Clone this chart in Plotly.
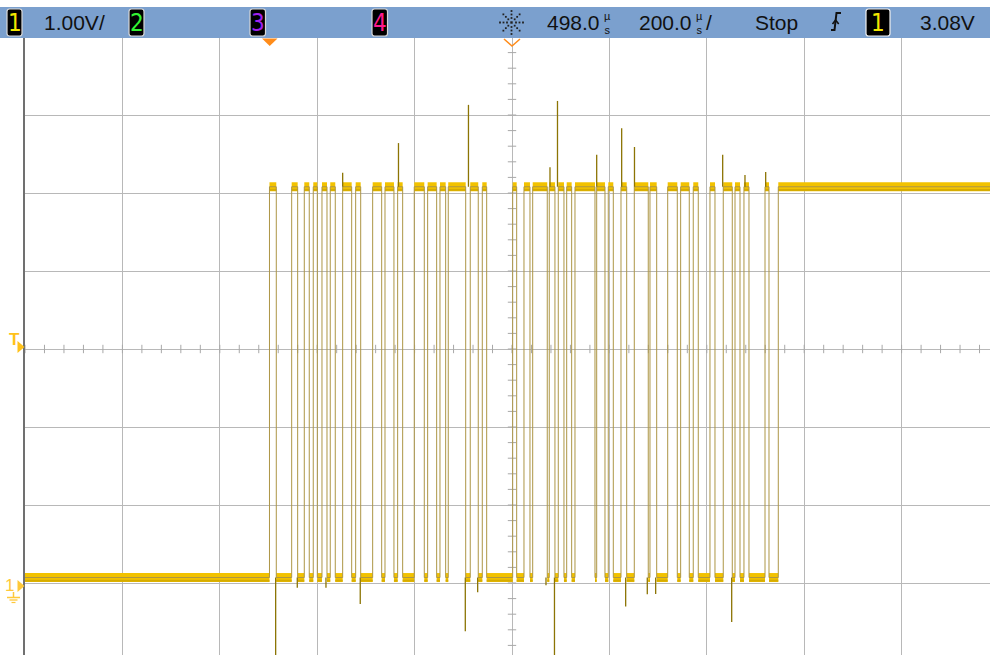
import math
import plotly.graph_objects as go

# ---------------- data (time in µs relative to trigger, voltage in V) ----------------
t_left = -502.0          # time at left screen edge (delay 498 µs - 5 div)
t_per_div = 200.0        # 200 µs/div
v_center = 3.0           # screen centre voltage (1.00 V/div, ground 3 div below)

rise_times = [0.0, 45.6, 71.5, 89.9, 107.8, 124.8, 150.3, 177.0, 211.9, 237.2, 263.2,
              297.3, 324.8, 350.1, 367.1, 412.3, 437.0, 499.4, 522.6, 540.5, 574.5,
              593.0, 610.3, 627.3, 671.9, 695.7, 721.8, 749.1, 781.3, 817.7, 844.3,
              870.2, 904.5, 931.8, 955.9, 974.3, 1017.5, 1044.8]
fall_times = [14.0, 57.9, 81.7, 98.2, 118.1, 135.1, 168.8, 187.3, 230.4, 255.6, 273.5,
              317.9, 343.3, 361.8, 402.9, 428.7, 446.0, 507.6, 534.9, 570.4, 586.2,
              604.7, 620.5, 668.4, 688.9, 706.0, 733.5, 777.8, 795.1, 837.4, 862.0,
              880.5, 914.8, 950.3, 966.2, 984.6, 1025.7]
v_high = 5.08
v_low = 0.07

# glitch / overshoot spikes (time, peak voltage)
spike_t = [150.3, 264.9, 408.6, 576.0, 591.4, 671.9, 723.2, 749.5, 930.6, 976.4, 1018.9,
           12.7, 57.1, 116.0, 186.4, 402.1, 427.5, 567.8, 585.2, 731.4, 775.8, 793.0, 949.1]
spike_v = [5.26, 5.64, 6.13, 5.33, 6.18, 5.49, 5.83, 5.59, 5.49, 5.23, 5.27,
           -1.0, -0.06, -0.06, -0.27, -0.62, -0.12, -0.03, -1.0, -0.30, -0.145, -0.14, -0.50]

# ---------------- screen geometry ----------------
W, H = 990, 655
L, T = 25, 38
PW, PH = W - L, H - T
div_px_x = 97.4
div_px_y = 78.0
t_right = t_left + PW / div_px_x * t_per_div
center_py = 349.0
v_top = v_center + (center_py - T) / div_px_y
v_bot = v_center - (H - center_py) / div_px_y


def PX(x):
    return (x - L) / PW


def PY(y):
    return (H - y) / PH


# ---------------- waveform construction ----------------
edges = sorted([(t, v_high) for t in rise_times] + [(t, v_low) for t in fall_times])
wx, wy = [t_left], [v_low]
cur = v_low
for t, v in edges:
    wx += [t, t]
    wy += [cur, v]
    cur = v
wx.append(t_right)
wy.append(cur)

starts = [t_left] + [t for t, _ in edges]
levels = [v_low] + [v for _, v in edges]
ends = [t for t, _ in edges] + [t_right]
px_, py_, dx_, dy_ = [], [], [], []
for s, e, v in zip(starts, ends, levels):
    px_ += [s, e, None]
    py_ += [v, v, None]
    dx_ += [s, e, None]
    dy_ += [v - 0.04, v - 0.04, None]

sx, sy = [], []
for t, v in zip(spike_t, spike_v):
    base = v_high if v > v_center else v_low
    sx += [t, t, None]
    sy += [base, v, None]

fig = go.Figure()

# graticule minor ticks on the centre crosshair
n_h = int(round((t_right - t_left) / (t_per_div / 5))) + 1
fig.add_trace(go.Scatter(
    x=[t_left + k * t_per_div / 5 for k in range(n_h)], y=[v_center] * n_h,
    mode="markers", marker=dict(symbol="line-ns", size=6, line=dict(color="#A8A8A8", width=1)),
    hoverinfo="skip", showlegend=False))
vt = [v_center + k * 0.2 for k in range(-20, 21)]
fig.add_trace(go.Scatter(
    x=[t_left + 5 * t_per_div] * len(vt), y=vt,
    mode="markers", marker=dict(symbol="line-ew", size=6, line=dict(color="#A8A8A8", width=1)),
    hoverinfo="skip", showlegend=False))

# plateaus (thick noisy band)
fig.add_trace(go.Scatter(x=px_, y=py_, mode="lines",
                         line=dict(color="#F2C200", width=9), hoverinfo="skip", showlegend=False))
fig.add_trace(go.Scatter(x=dx_, y=dy_, mode="lines",
                         line=dict(color="#D6AC00", width=2), hoverinfo="skip", showlegend=False))
# edges (thin)
fig.add_trace(go.Scatter(x=wx, y=wy, mode="lines",
                         line=dict(color="#AD9645", width=1), hoverinfo="skip", showlegend=False))
# spikes
fig.add_trace(go.Scatter(x=sx, y=sy, mode="lines",
                         line=dict(color="#8C7404", width=1.3), hoverinfo="skip", showlegend=False))

shapes = []
ann = []

# header bar
shapes.append(dict(type="rect", xref="paper", yref="paper", x0=PX(0), x1=PX(W), y0=PY(38), y1=PY(7),
                   fillcolor="#7BA0CE", line=dict(width=0), layer="above"))


def box(x0, x1, y0=9, y1=36, border="#D8D8D8"):
    r = 2.5
    path = (f"M {PX(x0 + r)},{PY(y0)} L {PX(x1 - r)},{PY(y0)} Q {PX(x1)},{PY(y0)} {PX(x1)},{PY(y0 + r)} "
            f"L {PX(x1)},{PY(y1 - r)} Q {PX(x1)},{PY(y1)} {PX(x1 - r)},{PY(y1)} "
            f"L {PX(x0 + r)},{PY(y1)} Q {PX(x0)},{PY(y1)} {PX(x0)},{PY(y1 - r)} "
            f"L {PX(x0)},{PY(y0 + r)} Q {PX(x0)},{PY(y0)} {PX(x0 + r)},{PY(y0)} Z")
    shapes.append(dict(type="path", xref="paper", yref="paper", path=path, fillcolor="#000000",
                       line=dict(color=border, width=1.2), layer="above"))


def text(x, y, s, size=21, color="#111111", xanchor="left", family="Liberation Sans"):
    ann.append(dict(xref="paper", yref="paper", x=PX(x), y=PY(y), text=s, showarrow=False,
                    xanchor=xanchor, yanchor="middle", font=dict(family=family, size=size, color=color)))


narrow = "Liberation Sans Narrow, DejaVu Sans Condensed, Liberation Sans"
for (x0, x1, lbl, col) in [(7, 22, "1", "#F2E600"), (129, 144, "2", "#33F233"),
                           (250, 265.5, "3", "#A020F0"), (372, 387.5, "4", "#FF1A8C")]:
    box(x0, x1)
    text((x0 + x1) / 2, 23, lbl, size=24, color=col, xanchor="center", family=narrow)
box(866, 890, border="#F0F0F0")
text(878, 23, "1", size=24, color="#F2E600", xanchor="center", family=narrow)

text(42, 23, "1.00V/")
text(601.5, 23, "498.0", xanchor="right")
text(607.5, 22.5, "µ<br>s", size=11, xanchor="center")
text(693.5, 23, "200.0", xanchor="right")
text(699.5, 22.5, "µ<br>s", size=11, xanchor="center")
text(703.5, 23, "/")
text(753, 23, "Stop")
text(918, 23, "3.08V")

# trigger edge symbol
shapes.append(dict(type="path", xref="paper", yref="paper",
                   path=f"M {PX(831)},{PY(30)} L {PX(834.5)},{PY(30)} L {PX(836.5)},{PY(13)} L {PX(841)},{PY(13)}",
                   line=dict(color="#111111", width=2), layer="above"))
shapes.append(dict(type="path", xref="paper", yref="paper",
                   path=f"M {PX(832.5)},{PY(24)} L {PX(835.6)},{PY(20)} L {PX(838.7)},{PY(24)}",
                   line=dict(color="#111111", width=1.6), layer="above"))

# acquisition star icon
cx, cy = 511.5, 22.5
for k in range(8):
    a = k * math.pi / 4
    for rr in (4.5, 8.0, 11.5):
        x = cx + rr * math.cos(a)
        y = cy + rr * math.sin(a)
        s = 0.9
        shapes.append(dict(type="rect", xref="paper", yref="paper", x0=PX(x - s), x1=PX(x + s),
                           y0=PY(y + s), y1=PY(y - s), fillcolor="#222222", line=dict(width=0), layer="above"))
shapes.append(dict(type="rect", xref="paper", yref="paper", x0=PX(cx - 1.2), x1=PX(cx + 1.2),
                   y0=PY(cy + 1.2), y1=PY(cy - 1.2), fillcolor="#222222", line=dict(width=0), layer="above"))

# trigger position marker (filled) and delay marker (hollow)
shapes.append(dict(type="path", xref="paper", yref="paper",
                   path=f"M {PX(262)},{PY(38.5)} L {PX(277.5)},{PY(38.5)} L {PX(269.7)},{PY(46)} Z",
                   fillcolor="#FF8C1A", line=dict(width=0), layer="above"))
shapes.append(dict(type="path", xref="paper", yref="paper",
                   path=f"M {PX(504)},{PY(39)} L {PX(512)},{PY(46)} L {PX(520)},{PY(39)}",
                   line=dict(color="#FF8C1A", width=1.5), layer="above"))

# left trigger level marker "T"
text(14, 339, "<b>T</b>", size=17, color="#FFC21A", xanchor="center", family="Liberation Sans")
shapes.append(dict(type="path", xref="paper", yref="paper",
                   path=f"M {PX(17.5)},{PY(341)} L {PX(24.5)},{PY(347)} L {PX(17.5)},{PY(353)} Z",
                   fillcolor="#FFC21A", line=dict(width=0), layer="above"))
# ground marker "1"
text(9.5, 585, "1", size=17, color="#FFC83A", xanchor="center", family="Liberation Sans")
shapes.append(dict(type="path", xref="paper", yref="paper",
                   path=f"M {PX(17.5)},{PY(580)} L {PX(24.5)},{PY(586)} L {PX(17.5)},{PY(592)} Z",
                   fillcolor="#FFC83A", line=dict(width=0), layer="above"))
shapes.append(dict(type="line", xref="paper", yref="paper", x0=PX(13.5), x1=PX(13.5), y0=PY(592), y1=PY(597),
                   line=dict(color="#FFC83A", width=1.5), layer="above"))
shapes.append(dict(type="line", xref="paper", yref="paper", x0=PX(7), x1=PX(20), y0=PY(597.5), y1=PY(597.5),
                   line=dict(color="#FFC83A", width=1.5), layer="above"))
shapes.append(dict(type="line", xref="paper", yref="paper", x0=PX(9.5), x1=PX(17.5), y0=PY(600), y1=PY(600),
                   line=dict(color="#FFC83A", width=1.3), layer="above"))
shapes.append(dict(type="line", xref="paper", yref="paper", x0=PX(11.5), x1=PX(15.5), y0=PY(602.5), y1=PY(602.5),
                   line=dict(color="#FFC83A", width=1.2), layer="above"))

fig.update_layout(
    width=W, height=H,
    margin=dict(l=L, r=0, t=T, b=0, pad=0),
    paper_bgcolor="#FFFFFF", plot_bgcolor="#FFFFFF",
    showlegend=False, hovermode=False,
    xaxis=dict(range=[t_left, t_right], tick0=t_left, dtick=t_per_div, showgrid=True,
               gridcolor="#B8B8B8", gridwidth=1, zeroline=False, showticklabels=False, ticks="",
               showline=False, fixedrange=True),
    yaxis=dict(range=[v_bot, v_top], tick0=v_center, dtick=1.0, showgrid=True,
               gridcolor="#B8B8B8", gridwidth=1, zeroline=False, showticklabels=False, ticks="",
               showline=True, linecolor="#707070", linewidth=2, fixedrange=True),
    shapes=shapes, annotations=ann,
)

fig.write_html("out.html", config={"displayModeBar": False, "staticPlot": True},
               post_script="document.body.style.margin='0';document.body.style.padding='0';"
                           "document.body.style.overflow='hidden';")
